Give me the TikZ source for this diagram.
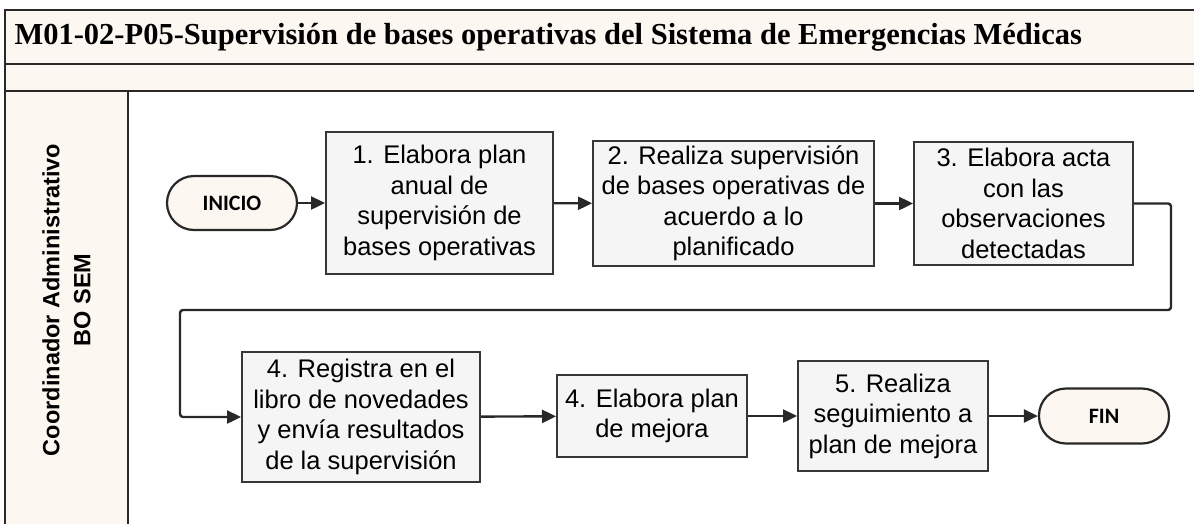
\documentclass[tikz,border=0pt]{standalone}
\usepackage{fontspec}
\setmainfont{Liberation Sans}
\newfontfamily\titlefont{Liberation Serif}
\newfontfamily\termfont{Carlito}
\usepackage{tikz}
\usetikzlibrary{arrows.meta, positioning, calc}
\definecolor{mycream}{RGB}{253,247,242}
\definecolor{mygray}{RGB}{245,245,245}
\definecolor{mydark}{RGB}{40,40,40}
\definecolor{myline}{RGB}{55,55,55}
\tikzset{
  actbox/.style={rectangle, draw=myline, fill=mygray, line width=2pt,
    align=center, inner sep=0pt, font=\fontsize{25.5}{30.5}\selectfont},
  term/.style={rectangle, rounded corners=27pt, draw=mydark, fill=mycream,
    line width=2.2pt, minimum width=130pt, minimum height=54pt,
    font=\termfont\bfseries\fontsize{22}{26}\selectfont},
  arrow/.style={-{Triangle[length=14pt,width=13pt]}, line width=2.4pt, color=mydark},
  frame/.style={draw=mydark, line width=2.4pt}
}

\begin{document}
\begin{tikzpicture}[x=1pt, y=-1pt]
  \useasboundingbox (0,0) rectangle (1194,523);
  \clip (0,0) rectangle (1194,523);

  % Header bands and lane column
  \fill[white] (0,0) rectangle (1194,523);
  \fill[mycream] (5,10) rectangle (1210,91);
  \fill[mycream] (5,91) rectangle (128,540);
  \draw[frame] (5,540) -- (5,10) -- (1210,10);
  \draw[frame] (5,64) -- (1210,64);
  \draw[frame] (5,91) -- (1210,91);
  \draw[frame] (128,91) -- (128,540);
  \node[anchor=west, font=\titlefont\bfseries\fontsize{30.5}{35}\selectfont] (title) at (11,37)
    {M01-02-P05-Supervisión de bases operativas del Sistema de Emergencias Médicas};

  % Lane label
  \node[rotate=90, align=center, font=\bfseries\fontsize{23.5}{31}\selectfont] (lane) at (66.5,300)
    {Coordinador Administrativo\\BO SEM};

  % First row
  \node[term] (inicio) at (232,203) {INICIO};
  \node[actbox, minimum width=227pt, minimum height=142pt] (act1) at (439.5,203)
    {1. Elabora plan\\anual de\\supervisión de\\bases operativas};
  \node[actbox, minimum width=281pt, minimum height=125pt] (act2) at (733.5,203.5)
    {2. Realiza supervisión\\de bases operativas de\\acuerdo a lo\\planificado};
  \node[actbox, minimum width=219pt, minimum height=123pt] (act3) at (1023.5,203.5)
    {3. Elabora acta\\con las\\observaciones\\detectadas};

  % Second row
  \node[actbox, minimum width=238pt, minimum height=130pt] (act4) at (361,417)
    {4. Registra en el\\libro de novedades\\y envía resultados\\de la supervisión};
  \node[actbox, minimum width=190pt, minimum height=82pt] (act5) at (652,416)
    {4. Elabora plan\\de mejora};
  \node[actbox, minimum width=190pt, minimum height=110pt] (act6) at (893,416)
    {5. Realiza\\seguimiento a\\plan de mejora};
  \node[term, minimum height=55pt] (fin) at (1104,416) {FIN};

  % Connections
  \draw[arrow] (inicio) -- (act1);
  \draw[arrow] (act1) -- (act2);
  \draw[arrow] (act2) -- (act3);
  \coordinate (loopR) at (1171,310);
  \coordinate (loopL) at (180,310);
  \draw[arrow, rounded corners=3pt] (act3.east) -| (loopR) -- (loopL) |- (act4.west);
  \draw[arrow] (act4) -- (act5);
  \draw[arrow] (act5) -- (act6);
  \draw[arrow] (act6) -- (fin);
\end{tikzpicture}
\end{document}
